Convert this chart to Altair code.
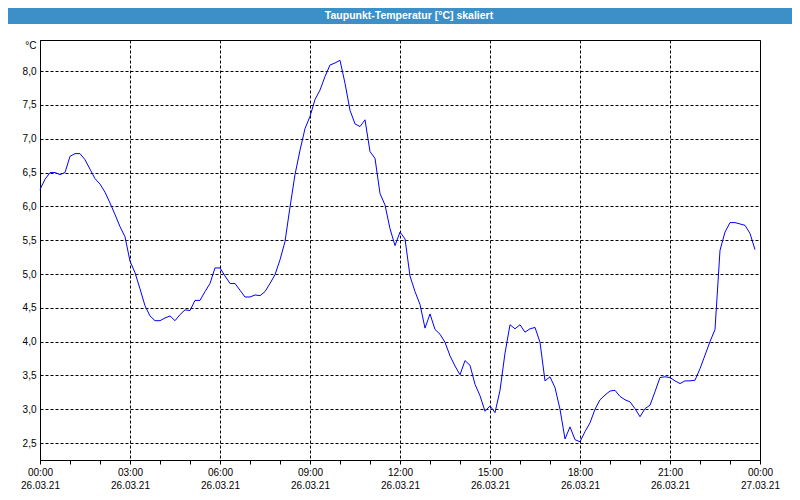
import altair as alt
import pandas as pd

# Dew point temperature, 10-minute readings from 26.03.21 00:00 to 23:50
dewpoint = [
    6.25, 6.40, 6.50, 6.50, 6.47, 6.50, 6.74, 6.78, 6.78, 6.69, 6.55, 6.41,
    6.33, 6.21, 6.05, 5.88, 5.70, 5.55, 5.19, 5.02, 4.78, 4.53, 4.38, 4.31,
    4.31, 4.35, 4.38, 4.31, 4.40, 4.47, 4.46, 4.61, 4.61, 4.74, 4.86, 5.09,
    5.09, 4.97, 4.86, 4.86, 4.76, 4.66, 4.66, 4.69, 4.68, 4.74, 4.86, 4.99,
    5.21, 5.48, 5.99, 6.47, 6.83, 7.15, 7.33, 7.58, 7.72, 7.92, 8.09, 8.12,
    8.16, 7.82, 7.42, 7.22, 7.18, 7.28, 6.81, 6.71, 6.19, 6.02, 5.67, 5.42,
    5.62, 5.52, 4.97, 4.74, 4.55, 4.20, 4.41, 4.18, 4.11, 3.99, 3.79, 3.64,
    3.51, 3.72, 3.65, 3.37, 3.20, 2.97, 3.05, 2.95, 3.28, 3.83, 4.25, 4.19,
    4.25, 4.14, 4.19, 4.21, 3.99, 3.42, 3.48, 3.32, 3.00, 2.56, 2.74, 2.55,
    2.52, 2.67, 2.80, 3.00, 3.14, 3.21, 3.27, 3.28, 3.19, 3.14, 3.11, 3.01,
    2.89, 3.01, 3.06, 3.26, 3.47, 3.48, 3.47, 3.42, 3.38, 3.42, 3.42, 3.43,
    3.60, 3.80, 4.00, 4.18, 5.35, 5.62, 5.76, 5.76, 5.74, 5.72, 5.60, 5.36,
]
start_time = "2021-03-26 00:00"
interval = "10min"
y_ticks = [2.5, 3.0, 3.5, 4.0, 4.5, 5.0, 5.5, 6.0, 6.5, 7.0, 7.5, 8.0]
y_domain = [2.25, 8.46]
title_text = "Taupunkt-Temperatur [°C] skaliert"
unit_text = "°C"

times = pd.date_range(start_time, periods=len(dewpoint), freq=interval)
df = pd.DataFrame({"zeit": times, "wert": dewpoint})

hour_values = [alt.DateTime(year=2021, month=3, date=26, hours=h) for h in range(24)]
hour_values.append(alt.DateTime(year=2021, month=3, date=27, hours=0))
x_domain = [alt.DateTime(year=2021, month=3, date=26, hours=0),
            alt.DateTime(year=2021, month=3, date=27, hours=0)]

FONT = "Tahoma, Liberation Sans"

x_axis = alt.Axis(
    title=None,
    values=hour_values,
    labelExpr="hours(datum.value) % 3 == 0 ? [timeFormat(datum.value, '%H:%M'), timeFormat(datum.value, '%d.%m.%y')] : ''",
    labelOverlap=False,
    labelFlush=False,
    labelLineHeight=13,
    labelPadding=3,
    labelFont=FONT,
    labelFontSize=10,
    labelColor="black",
    tickSize=4,
    tickColor="black",
    domainColor="black",
    grid=True,
    gridColor="black",
    gridDash=[3, 2],
    gridOpacity={"condition": {"test": "hours(datum.value) % 3 == 0", "value": 1}, "value": 0},
)

y_axis = alt.Axis(
    title=unit_text,
    titleAngle=0,
    titleX=-4,
    titleY=5,
    titleAlign="right",
    titleBaseline="middle",
    titleFont=FONT,
    titleFontSize=10,
    titleFontWeight="normal",
    titleColor="black",
    values=y_ticks,
    labelExpr="replace(format(datum.value, '.1f'), '.', ',')",
    labelFont=FONT,
    labelFontSize=10,
    labelColor="black",
    labelPadding=4,
    ticks=False,
    domainColor="black",
    grid=True,
    gridColor="black",
    gridDash=[3, 2],
)

line = alt.Chart(df).mark_line(color="#0000ff", strokeWidth=1).encode(
    x=alt.X("zeit:T", scale=alt.Scale(domain=x_domain), axis=x_axis),
    y=alt.Y("wert:Q", scale=alt.Scale(domain=y_domain, zero=False, nice=False), axis=y_axis),
)

one = pd.DataFrame({"t": [title_text]})
bar = alt.Chart(one).mark_rect(color="#3d8fc7").encode(
    x=alt.value(-32), x2=alt.value(752), y=alt.value(-32), y2=alt.value(-16)
)
title = alt.Chart(one).mark_text(
    color="white", font=FONT, fontSize=10.5, fontWeight="bold", baseline="middle", align="center"
).encode(x=alt.value(369), y=alt.value(-24), text="t:N")

chart = alt.layer(bar, title, line).properties(
    width=720,
    height=420,
    padding={"left": 32, "top": 32, "right": 32, "bottom": 32},
    autosize=alt.AutoSizeParams(type="none"),
    background="white",
).configure_view(stroke="black", strokeWidth=1)

chart.save("out.html", embed_options={"renderer": "svg", "actions": False})
